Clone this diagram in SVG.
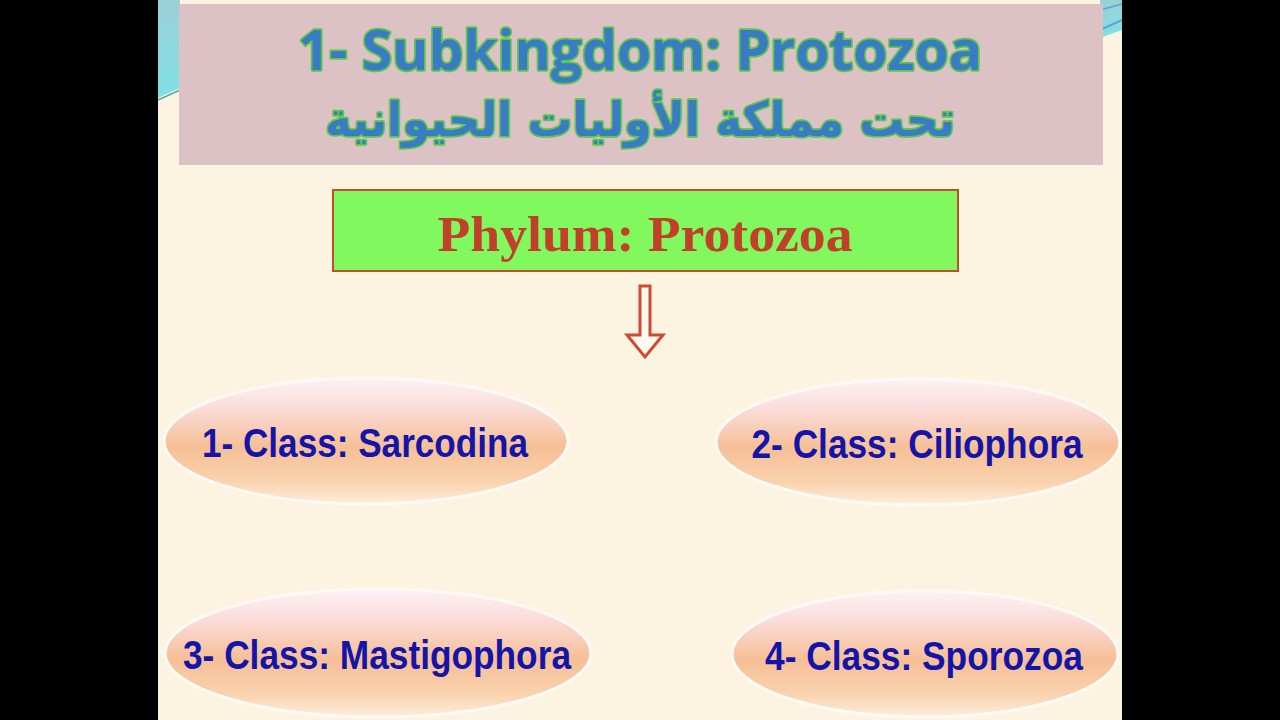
<svg xmlns="http://www.w3.org/2000/svg" width="1280" height="720" viewBox="0 0 1280 720">
<defs>
<linearGradient id="ell" x1="0" y1="0" x2="0" y2="1">
<stop offset="0" stop-color="#fdf2f4"/>
<stop offset="0.22" stop-color="#fbdedd"/>
<stop offset="0.55" stop-color="#f6bf96"/>
<stop offset="0.82" stop-color="#f9d2ae"/>
<stop offset="1" stop-color="#fdeedc"/>
</linearGradient>
<linearGradient id="teal" x1="0" y1="0" x2="0" y2="1">
<stop offset="0" stop-color="#9ccfd8"/>
<stop offset="1" stop-color="#7fe0e4"/>
</linearGradient>
</defs>
<style>
.title{font-family:"Open Sans","Noto Sans",sans-serif;font-weight:bold;fill:#3a7cc4;stroke:#5cc848;stroke-width:3.5;paint-order:stroke;stroke-linejoin:round}
.ar{font-family:"DejaVu Sans","Noto Sans",sans-serif;font-weight:bold;fill:#3a7cc4;stroke:#5cc848;stroke-width:3.5;paint-order:stroke;stroke-linejoin:round}
.phy{font-family:"Liberation Serif","Times New Roman",serif;font-weight:bold;fill:#c0402a}
.cls{font-family:"Liberation Sans",Arial,sans-serif;font-weight:bold;fill:#1414a8}
.node ellipse{fill:url(#ell);stroke:#fffaf6;stroke-width:3}
</style>
<rect x="0" y="0" width="1280" height="720" fill="#000"/>
<rect x="158" y="0" width="964" height="720" fill="#fcf3e0"/>
<polygon points="158,0 180,0 180,88 158,98" fill="url(#teal)"/>
<line x1="158" y1="100" x2="180" y2="90" stroke="#5aa8a8" stroke-width="1.5"/>
<polygon points="1100,0 1122,0 1122,30 1100,38" fill="url(#teal)"/>
<line x1="1100" y1="30" x2="1122" y2="20" stroke="#5aa8c8" stroke-width="2"/>
<line x1="1100" y1="10" x2="1122" y2="4" stroke="#5aa8c8" stroke-width="1.5"/>
<g id="title">
<rect x="179" y="4" width="924" height="161" fill="#dcc2c4"/>
<text class="title" x="640" y="70" text-anchor="middle" font-size="56" textLength="684" lengthAdjust="spacingAndGlyphs">1- Subkingdom: Protozoa</text>
<text class="ar" x="640" y="136" text-anchor="middle" font-size="48" direction="rtl" textLength="630" lengthAdjust="spacingAndGlyphs">تحت مملكة الأوليات الحيوانية</text>
</g>
<g id="phylum">
<rect x="333" y="190" width="625" height="81" fill="#80f85e" stroke="#c0502a" stroke-width="2"/>
<text class="phy" x="645" y="251" text-anchor="middle" font-size="50" textLength="415" lengthAdjust="spacingAndGlyphs">Phylum: Protozoa</text>
</g>
<g id="connectors">
<polygon points="640,286 650,286 650,335 663,335 645,357 627,335 640,335" fill="#fffaf0" stroke="#d04a30" stroke-width="3" stroke-linejoin="miter"/>
</g>
<g id="class1" class="node">
<ellipse cx="366" cy="441" rx="202" ry="63"/>
<text class="cls" x="365" y="457" text-anchor="middle" font-size="41" textLength="326" lengthAdjust="spacingAndGlyphs">1- Class: Sarcodina</text>
</g>
<g id="class2" class="node">
<ellipse cx="918" cy="442" rx="202" ry="63"/>
<text class="cls" x="917" y="458" text-anchor="middle" font-size="41" textLength="331" lengthAdjust="spacingAndGlyphs">2- Class: Ciliophora</text>
</g>
<g id="class3" class="node">
<ellipse cx="378" cy="653" rx="213" ry="64"/>
<text class="cls" x="377" y="669" text-anchor="middle" font-size="41" textLength="388" lengthAdjust="spacingAndGlyphs">3- Class: Mastigophora</text>
</g>
<g id="class4" class="node">
<ellipse cx="925" cy="654" rx="193" ry="63"/>
<text class="cls" x="924" y="670" text-anchor="middle" font-size="41" textLength="318" lengthAdjust="spacingAndGlyphs">4- Class: Sporozoa</text>
</g>
</svg>
